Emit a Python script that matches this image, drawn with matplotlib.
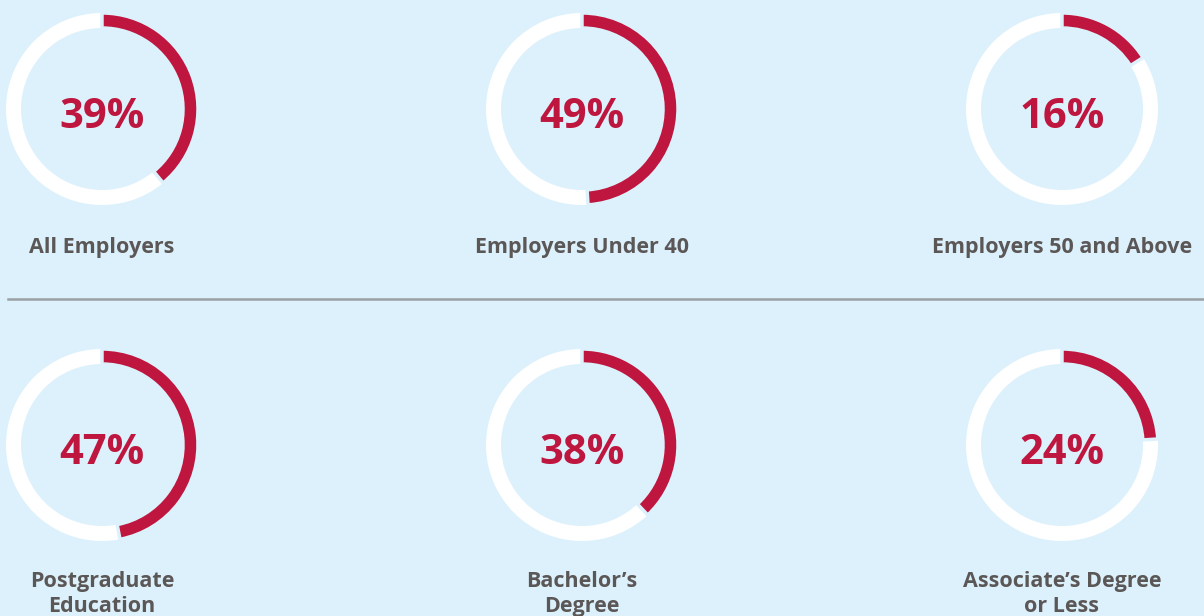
import matplotlib
matplotlib.use("Agg")
import matplotlib.pyplot as plt
from matplotlib.patches import Wedge

BG = "#DCF1FB"
RED = "#BE163E"
GREY = "#5B5757"

labels = ["All Employers", "Employers Under 40", "Employers 50 and Above",
          "Postgraduate\nEducation", "Bachelor\u2019s\nDegree", "Associate\u2019s Degree\nor Less"]
values = [39, 49, 16, 47, 38, 24]

W, H = 1204, 616
fig = plt.figure(figsize=(W / 100, H / 100), dpi=100, facecolor=BG)
ax = fig.add_axes([0, 0, 1, 1])
ax.set_xlim(0, W)
ax.set_ylim(0, H)
ax.set_facecolor(BG)
ax.axis("off")

centers_x = [102, 582, 1062]
centers_y = [109, 445]
label_y = [247, 594]
R, WIDTH = 96, 15

for i, (lab, val) in enumerate(zip(labels, values)):
    cx = centers_x[i % 3]
    cy = H - centers_y[i // 3]
    end = 90 - 360 * val / 100
    ax.add_patch(Wedge((cx, cy), R, 90, 90 + 360, width=WIDTH, facecolor="white",
                       edgecolor="none"))
    ax.add_patch(Wedge((cx, cy), R, end, 90, width=WIDTH, facecolor=RED,
                       edgecolor=BG, linewidth=2.5))
    ax.text(cx, cy - 8, f"{val}%", ha="center", va="center", fontsize=30,
            fontweight="bold", color=RED, family="Open Sans")
    ax.text(cx, H - label_y[i // 3], lab, ha="center", va="center", fontsize=15.5,
            fontweight="bold", color=GREY, family="Open Sans", linespacing=1.2)

ax.plot([8, W], [H - 299, H - 299], color="#9AA0A4", linewidth=1.8)

fig.savefig("out.png", dpi=100, facecolor=BG)
